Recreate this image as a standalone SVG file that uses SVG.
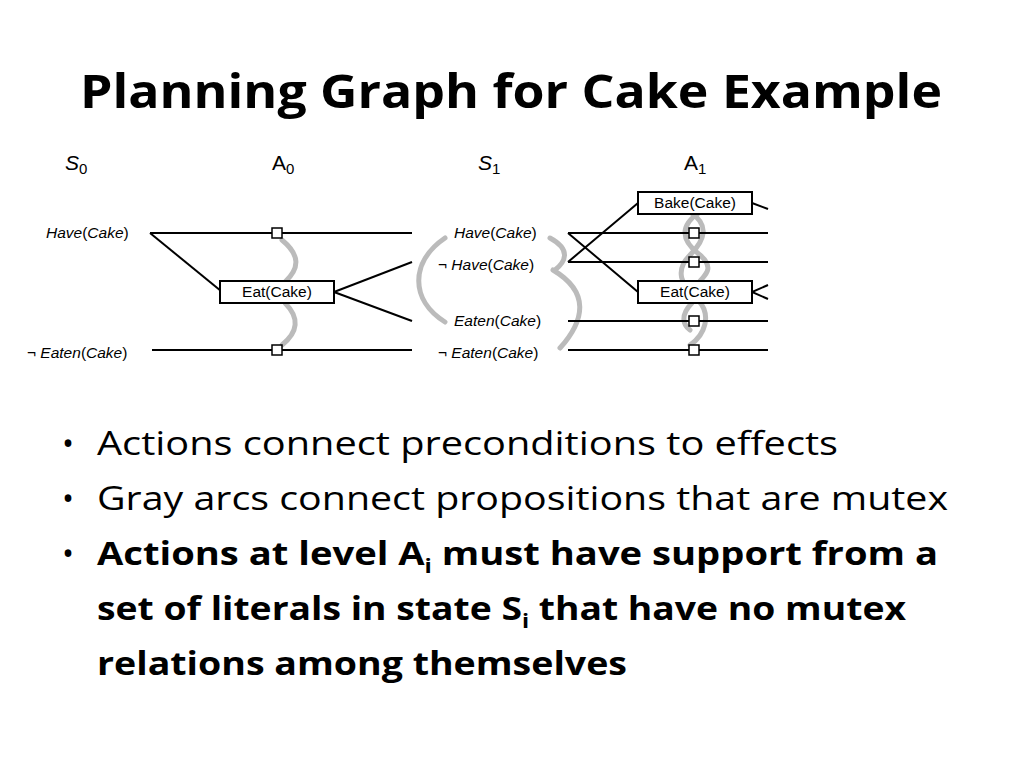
<svg xmlns="http://www.w3.org/2000/svg" width="1024" height="768" viewBox="0 0 1024 768">
<style>
.t{font-family:"Liberation Sans",Arial,sans-serif;font-size:15.5px;fill:#000}
.i{font-style:italic}
.lv{font-family:"Liberation Sans",Arial,sans-serif;font-size:21px}
.ln{stroke:#000;stroke-width:2;fill:none}
.g{stroke:#bbb;stroke-width:5;fill:none;stroke-linecap:round}
.bx{fill:#fff;stroke:#000;stroke-width:2}
.sq{fill:#fff;stroke:#000;stroke-width:1.5}
.b{font-family:"Open Sans","Liberation Sans",sans-serif;font-size:32px;fill:#000}
</style>
<rect width="1024" height="768" fill="#fff"/>
<text x="511" y="108" text-anchor="middle" font-family="Open Sans, Liberation Sans, sans-serif" font-weight="bold" font-size="46" textLength="862" lengthAdjust="spacingAndGlyphs">Planning Graph for Cake Example</text>
<g id="levels">
<text class="lv" x="65" y="170"><tspan class="i">S</tspan><tspan font-size="15" dy="4">0</tspan></text>
<text class="lv" x="272" y="170">A<tspan font-size="15" dy="4">0</tspan></text>
<text class="lv" x="478" y="170"><tspan class="i">S</tspan><tspan font-size="15" dy="4">1</tspan></text>
<text class="lv" x="684" y="170">A<tspan font-size="15" dy="4">1</tspan></text>
</g>
<g id="mutex">
<path class="g" d="M282,240 C300,255 300,268 285,282"/>
<path class="g" d="M285,303 C300,318 298,332 282,345"/>
<path class="g" d="M445,238 C410,262 410,300 445,322"/>
<path class="g" d="M550,238 C572,250 565,262 555,270 M553,270 C590,292 585,320 560,348"/>
<path class="g" d="M690,212 C710,225 705,240 690,255 C675,270 680,285 698,300 C712,315 705,335 690,345"/>
<path class="g" d="M700,212 C680,225 680,240 700,255 C715,268 705,275 700,281"/>
<path class="g" d="M692,303 C680,315 683,325 690,330"/>
</g>
<g id="connectors">
<line class="ln" x1="150" y1="233" x2="412" y2="233"/>
<line class="ln" x1="150" y1="233" x2="221" y2="291"/>
<line class="ln" x1="334" y1="292" x2="412" y2="262"/>
<line class="ln" x1="334" y1="292" x2="412" y2="321"/>
<line class="ln" x1="152" y1="350" x2="412" y2="350"/>
<line class="ln" x1="568" y1="233" x2="768" y2="233"/>
<line class="ln" x1="568" y1="262" x2="768" y2="262"/>
<line class="ln" x1="568" y1="233" x2="638" y2="292"/>
<line class="ln" x1="568" y1="262" x2="638" y2="203"/>
<line class="ln" x1="568" y1="321" x2="768" y2="321"/>
<line class="ln" x1="568" y1="350" x2="768" y2="350"/>
<polyline class="ln" points="752,203 768,209"/>
<polyline class="ln" points="768,285 752,292 768,299"/>
</g>
<g id="s0">
<text class="t" x="46" y="238"><tspan class="i">Have</tspan>(<tspan class="i">Cake</tspan>)</text>
<text class="t" x="27" y="358">¬ <tspan class="i">Eaten</tspan>(<tspan class="i">Cake</tspan>)</text>
</g>
<g id="a0">
<rect class="sq" x="272" y="228" width="10" height="10"/>
<rect class="sq" x="272" y="345" width="10" height="10"/>
<rect class="bx" x="220" y="281" width="114" height="22"/>
<text class="t" x="277" y="297" text-anchor="middle">Eat(Cake)</text>
</g>
<g id="s1">
<text class="t" x="454" y="238"><tspan class="i">Have</tspan>(<tspan class="i">Cake</tspan>)</text>
<text class="t" x="438" y="270">¬ <tspan class="i">Have</tspan>(<tspan class="i">Cake</tspan>)</text>
<text class="t" x="454" y="326"><tspan class="i">Eaten</tspan>(<tspan class="i">Cake</tspan>)</text>
<text class="t" x="438" y="358">¬ <tspan class="i">Eaten</tspan>(<tspan class="i">Cake</tspan>)</text>
</g>
<g id="a1">
<rect class="sq" x="689" y="228" width="10" height="10"/>
<rect class="sq" x="689" y="257" width="10" height="10"/>
<rect class="sq" x="689" y="316" width="10" height="10"/>
<rect class="sq" x="689" y="345" width="10" height="10"/>
<rect class="bx" x="638" y="192" width="114" height="22"/>
<text class="t" x="695" y="208" text-anchor="middle">Bake(Cake)</text>
<rect class="bx" x="638" y="281" width="114" height="22"/>
<text class="t" x="695" y="297" text-anchor="middle">Eat(Cake)</text>
</g>
<g id="bullets">
<text class="b" x="62" y="455">•</text>
<text class="b" x="97" y="455" textLength="741" lengthAdjust="spacingAndGlyphs">Actions connect preconditions to effects</text>
<text class="b" x="62" y="510">•</text>
<text class="b" x="97" y="510" textLength="851" lengthAdjust="spacingAndGlyphs">Gray arcs connect propositions that are mutex</text>
<text class="b" x="62" y="565">•</text>
<text class="b" x="97" y="565" font-weight="bold" textLength="841" lengthAdjust="spacingAndGlyphs">Actions at level A<tspan font-size="20" dy="8">i</tspan><tspan dy="-8">  must have support from a</tspan></text>
<text class="b" x="97" y="620" font-weight="bold" textLength="809" lengthAdjust="spacingAndGlyphs">set of literals in state S<tspan font-size="20" dy="8">i</tspan><tspan dy="-8"> that have no mutex</tspan></text>
<text class="b" x="97" y="675" font-weight="bold" textLength="530" lengthAdjust="spacingAndGlyphs">relations among themselves</text>
</g>
</svg>
